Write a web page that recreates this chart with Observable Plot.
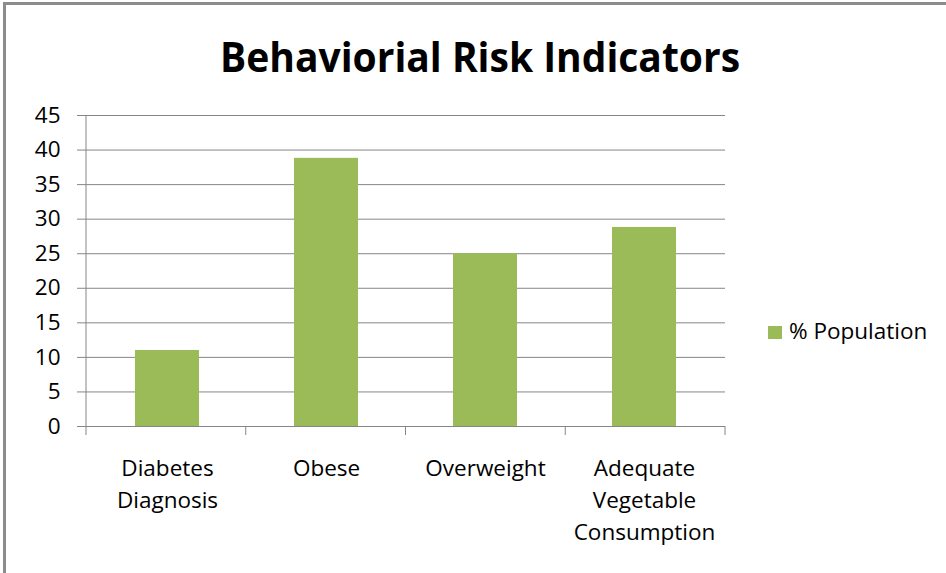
<!DOCTYPE html>
<html>
<head>
<meta charset="utf-8">
<script src="https://cdn.jsdelivr.net/npm/d3@7"></script>
<script src="https://cdn.jsdelivr.net/npm/@observablehq/plot@0.6"></script>
<style>
  body { margin: 0; background: #fff; }
  #wrap { position: relative; width: 946px; height: 573px; overflow: hidden; font-family: "Open Sans", sans-serif; color: #000; background: #fff; }
  #border { position: absolute; left: 3px; top: 2px; width: 1000px; height: 700px; border-left: 3px solid #8c8c8c; border-top: 3px solid #8c8c8c; box-sizing: border-box; }
  #title { position: absolute; left: 7px; width: 946px; top: 35px; text-align: center; font-size: 42px; line-height: 42px; font-weight: 700; white-space: nowrap; }
  #title span { display: inline-block; transform-origin: 50% 50%; }
  #legend { position: absolute; left: 768px; top: 320px; height: 22px; font-size: 22.5px; line-height: 22px; white-space: nowrap; display: flex; align-items: center; }
  #legend .sw { width: 14px; height: 13px; background: #9BBB59; margin-right: 7px; margin-top: 3px; }
  #chart { position: absolute; left: 0; top: 0; }
</style>
</head>
<body>
<div id="wrap">
  <div id="chart"></div>
  <div id="border"></div>
  <div id="title"><span>Behaviorial Risk Indicators</span></div>
  <div id="legend"><div class="sw"></div><div class="lt"></div></div>
</div>
<script>
const categories = ["Diabetes Diagnosis", "Obese", "Overweight", "Adequate Vegetable Consumption"];
const tickLabels = ["Diabetes\nDiagnosis", "Obese", "Overweight", "Adequate\nVegetable\nConsumption"];
const values = [11, 38.8, 25, 28.8];
const yTicks = [0, 5, 10, 15, 20, 25, 30, 35, 40, 45];
const seriesName = "% Population";

const data = categories.map((c, i) => ({category: c, value: values[i]}));
const green = "#9BBB59";
const grey = "#868686";

const chart = Plot.plot({
  width: 946,
  height: 573,
  marginLeft: 86,
  marginRight: 221,
  marginTop: 115,
  marginBottom: 147,
  style: {fontFamily: '"Open Sans", sans-serif', fontSize: "22.5px", color: "#000", background: "transparent", overflow: "visible"},
  x: {type: "band", domain: categories, paddingInner: 0.6, paddingOuter: 0.3, align: 0.5},
  y: {domain: [0, 45]},
  marks: [
    Plot.gridY(yTicks, {stroke: grey, strokeOpacity: 1, strokeWidth: 1}),
    Plot.barY(data, {x: "category", y: "value", fill: green}),
    Plot.ruleY([0], {stroke: grey, strokeWidth: 1}),
    Plot.axisY(yTicks, {tickSize: 9, tickPadding: 17, stroke: grey, fontSize: 22.5, label: null}),
    Plot.axisX({tickSize: 0, tickPadding: 27, fontSize: 22.5, lineHeight: 1.42, label: null,
      tickFormat: d => tickLabels[categories.indexOf(d)]})
  ]
});

// axis line and category separator ticks from the scales
const xs = chart.scale("x"), ys = chart.scale("y");
const [rx0, rx1] = xs.range;
const step = (rx1 - rx0) / categories.length;
const y0 = ys.apply(0), yTop = ys.apply(d3.max(yTicks));
const svg = d3.select(chart);
svg.append("line")
  .attr("x1", rx0).attr("x2", rx0).attr("y1", yTop).attr("y2", y0)
  .attr("stroke", grey).attr("stroke-width", 1);
svg.append("g").selectAll("line")
  .data(d3.range(categories.length + 1))
  .join("line")
  .attr("x1", i => rx0 + i * step).attr("x2", i => rx0 + i * step)
  .attr("y1", y0).attr("y2", y0 + 9)
  .attr("stroke", grey).attr("stroke-width", 1);

document.getElementById("chart").appendChild(chart);
document.querySelector("#legend .lt").textContent = seriesName;

// fit title width to the reference span
const tspan = document.querySelector("#title span");
const w = tspan.getBoundingClientRect().width;
tspan.style.transform = `scaleX(${520 / w})`;
</script>
</body>
</html>
